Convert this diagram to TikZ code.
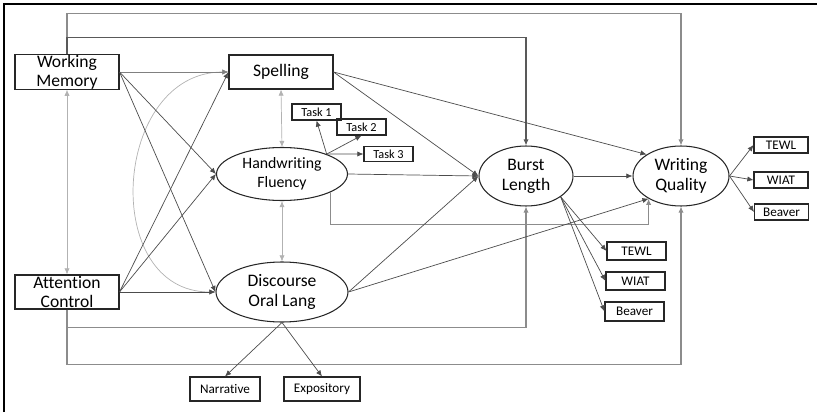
\documentclass[tikz,border=0pt]{standalone}
\usepackage{fontspec}
\setmainfont{Carlito}[Ligatures=NoCommon]
\usepackage{tikz}
\usetikzlibrary{shapes.geometric, arrows.meta, calc}

\begin{document}
\begin{tikzpicture}[x=0.02cm, y=-0.02cm,
        obs/.style={draw=black!85, line width=0.6pt, rectangle, inner sep=0pt, align=center, font=\fontsize{10}{11}\selectfont},
        ind/.style={draw=black!85, line width=0.6pt, rectangle, inner sep=0pt, font=\fontsize{7.5}{9}\selectfont},
        lat/.style={draw=black!85, line width=0.6pt, ellipse, inner sep=0pt, align=center, font=\fontsize{10}{11.5}\selectfont},
        reg/.style={draw=black!70, line width=0.4pt, -{Latex[length=3.5pt,width=3pt]}},
        cov/.style={draw=black!30, line width=0.4pt, {Latex[length=3.5pt,width=3pt]}-{Latex[length=3.5pt,width=3pt]}},
        wrap/.style={draw=black!45, line width=0.6pt, -{Latex[length=3.5pt,width=3pt]}}]
        \useasboundingbox (0,0) rectangle (817,412);
        \draw[line width=0.9pt] (4,412) -- (4,4) -- (817,4);
        \node[obs, minimum width=2.08cm, minimum height=0.68cm] (wm) at (67,72) {Working\\Memory};
        \node[obs, minimum width=2.08cm, minimum height=0.68cm] (ac) at (67,292) {Attention\\Control};
        \node[obs, minimum width=2.08cm, minimum height=0.68cm] (sp) at (281,72) {Spelling};
        \node[lat, minimum width=2.62cm, minimum height=1.06cm, font=\fontsize{9}{10.5}\selectfont] (hf) at (282,174) {Handwriting\\Fluency};
        \node[lat, minimum width=2.64cm, minimum height=1.2cm] (dol) at (282,292) {Discourse\\Oral Lang};
        \node[lat, minimum width=1.88cm, minimum height=1.2cm] (bl) at (526,176) {Burst\\Length};
        \node[lat, minimum width=1.92cm, minimum height=1.2cm] (wq) at (681,176) {Writing\\Quality};
        \node[ind, minimum width=0.98cm, minimum height=0.32cm, font=\fontsize{7}{8}\selectfont] (t1) at (316.5,112) {Task 1};
        \node[ind, minimum width=0.98cm, minimum height=0.32cm, font=\fontsize{7}{8}\selectfont] (t2) at (361.5,127) {Task 2};
        \node[ind, minimum width=0.98cm, minimum height=0.30cm, font=\fontsize{7}{8}\selectfont] (t3) at (388.5,154) {Task 3};
        \node[ind, minimum width=1.4cm, minimum height=0.48cm] (nar) at (225,389) {Narrative};
        \node[ind, minimum width=1.52cm, minimum height=0.48cm] (exp) at (322,389) {Expository};
        \node[ind, minimum width=1.08cm, minimum height=0.32cm] (tewl1) at (781,145) {TEWL};
        \node[ind, minimum width=1.08cm, minimum height=0.32cm] (wiat1) at (781,180) {WIAT};
        \node[ind, minimum width=1.08cm, minimum height=0.32cm] (beav1) at (781.5,212) {Beaver};
        \node[ind, minimum width=1.18cm, minimum height=0.36cm] (tewl2) at (636.5,251) {TEWL};
        \node[ind, minimum width=1.18cm, minimum height=0.36cm] (wiat2) at (635.5,281) {WIAT};
        \node[ind, minimum width=1.18cm, minimum height=0.38cm] (beav2) at (634.5,311.5) {Beaver};
        % correlations
        \draw[cov] (wm.south) -- (ac.north);
        \draw[cov] (sp.south) -- (hf.north);
        \draw[cov] (hf.south) -- (dol.north);
        \draw[cov] (sp.west) to[out=180, in=180, looseness=1.35] (dol.west);
        % direct paths around the model
        \draw[wrap] (wm.north) -- ++(0,-41) -| (wq.north);
        \draw[wrap, draw=black!65] (wm.north) -- ++(0,-17) -| (bl.north);
        \draw[wrap] (ac.south) -- ++(0,55) -| (wq.south);
        \draw[wrap] (ac.south) -- ++(0,18) -| (bl.south);
        \draw[wrap] (hf.-21) -- ++(0,32) -| (wq.-145);
        % regressions
        \draw[reg, draw=black!50] (wm.east) -- (sp.west);
        \foreach \t in {hf, dol} \draw[reg] (wm.east) -- (\t.west);
        \foreach \t in {sp, hf, dol} \draw[reg] (ac.east) -- (\t.west);
        \foreach \t in {sp, hf, dol} \draw[reg] (\t.east) -- (bl.west);
        \draw[reg] (sp.east) -- (wq.148);
        \draw[reg] (dol.east) -- (wq.-145);
        \draw[reg] (bl.east) -- (wq.west);
        \foreach \t in {t1, t2} \draw[reg] (hf.24) -- (\t.south);
        \draw[reg] (hf.24) -- (t3.west);
        \foreach \t in {tewl1, wiat1, beav1} \draw[reg] (wq.east) -- (\t.west);
        \foreach \t in {tewl2, wiat2, beav2} \draw[reg] (bl.-31) -- (\t.west);
        \draw[reg] (dol.south) -- (nar.north);
        \draw[reg] (dol.south) -- (exp.north);
\end{tikzpicture}
\end{document}
